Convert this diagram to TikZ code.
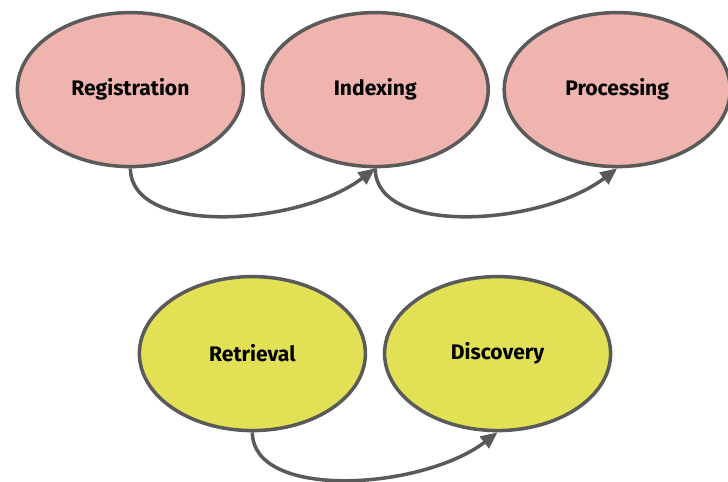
\documentclass[tikz,border=0pt]{standalone}
\usepackage{fontspec}
\setmainfont{Fira Sans}
\usepackage{tikz}
\usetikzlibrary{shapes.geometric, arrows.meta}

\definecolor{stagepink}{HTML}{F0B4AF}
\definecolor{stageyellow}{HTML}{E2E155}
\definecolor{edgegray}{HTML}{5A5A5A}

\begin{document}
\begin{tikzpicture}[
	stage/.style={ellipse, draw=edgegray, line width=2.5pt, minimum width=5.65cm, minimum height=3.85cm, font=\fontsize{15}{18}\selectfont\bfseries},
	flow/.style={draw=edgegray, line width=2.5pt, -{Triangle[length=0.42cm, width=0.36cm]}}
]
	\useasboundingbox (0, 0) rectangle (18.2, 12.05);
	
	\node [stage, fill=stagepink] (reg) at (3.26, 9.81) {Registration};
	\node [stage, fill=stagepink] (idx) at (9.38, 9.81) {Indexing};
	\node [stage, fill=stagepink] (proc) at (15.43, 9.81) {Processing};
	
	\node [stage, fill=stageyellow] (ret) at (6.31, 3.21) {Retrieval};
	\node [stage, fill=stageyellow] (disc) at (12.44, 3.21) {Discovery};
	
	\draw [flow] (reg.south) .. controls +(0, -1.7) and +(-1.9, -1.45) .. (idx.south);
	\draw [flow] (idx.south) .. controls +(0, -1.7) and +(-1.9, -1.45) .. (proc.south);
	\draw [flow] (ret.south) .. controls +(0, -1.7) and +(-1.9, -1.45) .. (disc.south);
\end{tikzpicture}
\end{document}
